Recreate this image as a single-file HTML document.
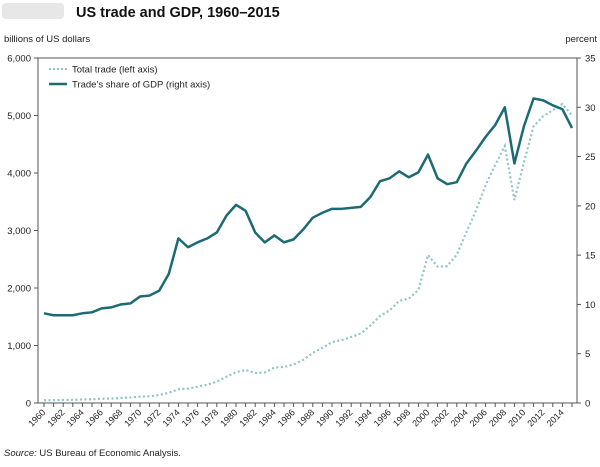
<!DOCTYPE html>
<html><head><meta charset="utf-8"><style>
body{margin:0;background:#fff;width:600px;height:462px;overflow:hidden;font-family:"Liberation Sans",sans-serif}
</style></head><body>
<svg id="chart" width="600" height="462" xmlns="http://www.w3.org/2000/svg" font-family="Liberation Sans, sans-serif">
<rect x="2" y="3" width="62" height="16" fill="#ddd" rx="4" opacity="0.7"/>
<text x="76" y="17" font-size="14.5" font-weight="bold" fill="#111">US trade and GDP, 1960–2015</text>
<text x="4" y="42" font-size="9.5" fill="#222">billions of US dollars</text>
<text x="597" y="42" font-size="9.5" fill="#222" text-anchor="end">percent</text>
<g id="axes"></g>
<g id="series"></g>
<g>
<line x1="49" y1="69" x2="67" y2="69" stroke="#8fc3c9" stroke-width="2" stroke-dasharray="2,2"/>
<text x="72" y="72.5" font-size="9.5" fill="#222">Total trade (left axis)</text>
<line x1="49" y1="84" x2="67" y2="84" stroke="#1c6a73" stroke-width="2.5"/>
<text x="72" y="87.5" font-size="9.5" fill="#222">Trade’s share of GDP (right axis)</text>
</g>
<text x="4" y="456" font-size="9.5" fill="#222"><tspan font-style="italic">Source:</tspan> US Bureau of Economic Analysis.</text>
</svg>
<script>
const years=[];for(let y=1960;y<=2015;y++)years.push(y);
const totalTrade=[48,49,52,55,62,66,74,78,88,97,110,118,138,178,240,249,284,318,371,455,536,575,522,530,617,627,669,750,872,960,1060,1093,1148,1209,1349,1513,1610,1777,1813,1967,2574,2370,2380,2580,2970,3350,3790,4140,4470,3530,4190,4810,4990,5090,5200,5000];
const gdpShare=[9.1,8.9,8.9,8.9,9.1,9.2,9.6,9.7,10.0,10.1,10.8,10.9,11.4,13.1,16.7,15.8,16.3,16.7,17.3,19.0,20.1,19.5,17.3,16.3,17.0,16.3,16.6,17.6,18.8,19.3,19.7,19.7,19.8,19.9,20.9,22.5,22.8,23.5,22.9,23.4,25.2,22.8,22.2,22.4,24.3,25.6,27.0,28.2,30.0,24.3,28.1,30.9,30.7,30.2,29.8,27.9];
const leftTicks=[0,1000,2000,3000,4000,5000,6000];
const rightTicks=[0,5,10,15,20,25,30,35];
const X0=38,X1=577,Y0=403,Y1=58;
const x=yr=>44+(yr-1960)*(572-44)/55;
const yL=v=>Y0-(v/6000)*(Y0-Y1);
const yR=v=>Y0-(v/35)*(Y0-Y1);
const NS="http://www.w3.org/2000/svg";
function mk(tag,attrs,parent,txt){const e=document.createElementNS(NS,tag);for(const k in attrs)e.setAttribute(k,attrs[k]);if(txt!=null)e.textContent=txt;parent.appendChild(e);return e;}
const ax=document.getElementById('axes');
let e;
e=mk('rect',{x:X0,y:Y1,width:X1-X0,height:Y0-Y1,fill:'none',stroke:'#555','stroke-width':1},ax);


leftTicks.forEach(t=>{
 mk('line',{x1:X0-4,x2:X0,y1:yL(t),y2:yL(t),stroke:'#555'},ax);
 e=mk('text',{x:X0-7,y:yL(t)+3.5,'font-size':9.5,'text-anchor':'end',fill:'#222'},ax,t.toLocaleString('en-US'));
 
 
});
rightTicks.forEach(t=>{
 mk('line',{x1:X1,x2:X1+4,y1:yR(t),y2:yR(t),stroke:'#555'},ax);
 e=mk('text',{x:X1+8,y:yR(t)+3.5,'font-size':9.5,fill:'#222'},ax,String(t));
 
 
});
years.forEach(yr=>{
 mk('line',{x1:x(yr),x2:x(yr),y1:Y0,y2:Y0+4,stroke:'#555'},ax);
 if(yr%2===0&&yr<=2014){
  e=mk('text',{x:x(yr)+2,y:Y0+10,'font-size':9,'text-anchor':'end',fill:'#222',transform:`rotate(-45 ${x(yr)+2} ${Y0+10})`},ax,String(yr));
  
  
 }
});
const s=document.getElementById('series');
e=mk('polyline',{points:years.map((yr,i)=>x(yr)+','+yL(totalTrade[i])).join(' '),fill:'none',stroke:'#8fc3c9','stroke-width':2.2,'stroke-dasharray':'2,2.5'},s);


e=mk('polyline',{points:years.map((yr,i)=>x(yr)+','+yR(gdpShare[i])).join(' '),fill:'none',stroke:'#1c6a73','stroke-width':2.5,'stroke-linejoin':'round'},s);


</script>
</body></html>
